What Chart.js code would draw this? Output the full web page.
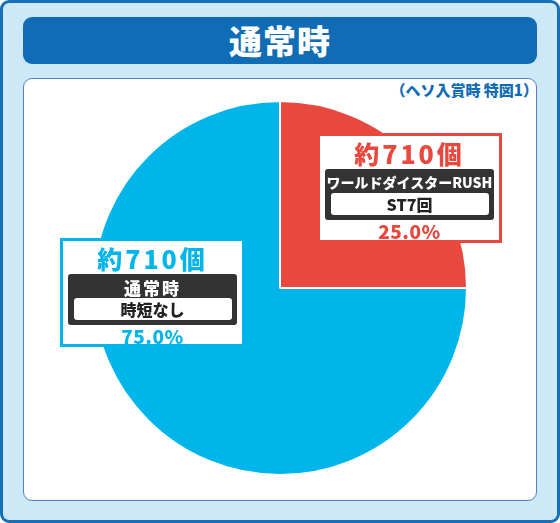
<!DOCTYPE html>
<html lang="ja">
<head>
<meta charset="utf-8">
<script src="https://cdn.jsdelivr.net/npm/chart.js@4"></script>
<style>
    html, body { margin: 0; padding: 0; background: #fff; }
    body { width: 560px; height: 523px; position: relative; overflow: hidden;
           font-family: "Noto Sans CJK JP", "Noto Sans", sans-serif; font-weight: 900; }
    .frame { position: absolute; left: 0; top: 0; width: 554px; height: 517px;
             background: #cde9f7; border: 3px solid #1570b9; border-radius: 9px; }
    .title { position: absolute; left: 23px; top: 17px; width: 514px; height: 47px;
             background: #0f6cb5; border-radius: 9px; color: #fff; font-size: 33px; line-height: 1;
             display: flex; align-items: center; justify-content: center; letter-spacing: 1px; }
    .panel { position: absolute; left: 23px; top: 78px; width: 512px; height: 421px;
             background: #fff; border: 1px solid #4f82c4; border-radius: 9px; }
    .note { position: absolute; right: 22px; top: 82px; font-size: 15px; line-height: 1; color: #0f6cb5; }
    .wrap { position: absolute; left: 92px; top: 100px; width: 376px; height: 376px; }
    .lbl { position: absolute; box-sizing: border-box; background: #fff; border: 3px solid; }
    .abs { position: absolute; display: flex; align-items: center; justify-content: center;
           line-height: 1; white-space: nowrap; }
    .cnt { font-size: 25px; letter-spacing: 3px; }
    .dark { background: #333333; border-radius: 3px; }
    .inner { background: #fff; border-radius: 3px; color: #222; }
    .pct { font-size: 19px; letter-spacing: 0.5px; }
</style>
</head>
<body>
<div class="frame"></div>
<div class="title">通常時</div>
<div class="panel"></div>
<div class="note">（ヘソ入賞時 特図1）</div>
<div class="wrap"><canvas id="graficoPizza" width="376" height="376"></canvas></div>
<div id="labels"></div>

<script>
// dados do gráfico
const categorias = ['ワールドダイスターRUSH', '通常時']
const subtitulos = ['ST7回', '時短なし']
const porcentagens = [25.0, 75.0]
const quantidades = ['約710個', '約710個']
const cores = ['#e8483e', '#00b5e9']

// posição das caixas de rótulo (x, y, largura, altura)
const caixas = [
    { x: 317, y: 133, w: 185, h: 110 },
    { x: 60, y: 238, w: 185, h: 109 }
]

const ctx = document.getElementById('graficoPizza').getContext('2d')

new Chart(ctx, {
    type: 'pie',
    data: {
        labels: categorias,
        datasets: [{
            data: porcentagens,
            backgroundColor: cores,
            borderColor: '#ffffff',
            borderWidth: 2
        }]
    },
    options: {
        responsive: false,
        animation: false,
        layout: { padding: 0 },
        plugins: {
            legend: { display: false },
            tooltip: { enabled: false }
        }
    }
})

// rótulos: texto centralizado numa linha (centro y relativo ao topo da caixa)
function linha(cls, x, cy, w, h, estilo, texto) {
    return `<div class="abs ${cls}" style="left:${x}px;top:${cy - h / 2}px;width:${w}px;height:${h}px;${estilo}">${texto}</div>`
}

let html = ''
categorias.forEach((cat, i) => {
    const c = caixas[i]
    const y0 = c.y
    html += `<div class="lbl" style="left:${c.x}px;top:${y0}px;width:${c.w}px;height:${c.h}px;border-color:${cores[i]}"></div>`
    html += linha('cnt', c.x, y0 + 20, c.w, 28, `color:${cores[i]}`, quantidades[i])
    html += `<div class="abs dark" style="left:${c.x + 8}px;top:${y0 + 36}px;width:${c.w - 16}px;height:51px"></div>`
    const fs = cat.length > 5 ? 14 : 17
    const ls = cat.length > 5 ? 0 : 2
    html += linha('', c.x, y0 + 49, c.w, 20, `color:#fff;font-size:${fs}px;letter-spacing:${ls}px`, cat)
    html += `<div class="abs inner" style="left:${c.x + 14}px;top:${y0 + 60}px;width:${c.w - 27}px;height:22px"></div>`
    html += linha('', c.x, y0 + 71, c.w, 22, `color:#222;font-size:${subtitulos[i].length > 3 ? 16 : 19}px`, subtitulos[i])
    html += linha('pct', c.x, y0 + 97, c.w, 24, `color:${cores[i]}`, porcentagens[i].toFixed(1) + '%')
})
document.getElementById('labels').innerHTML = html
</script>
</body>
</html>
